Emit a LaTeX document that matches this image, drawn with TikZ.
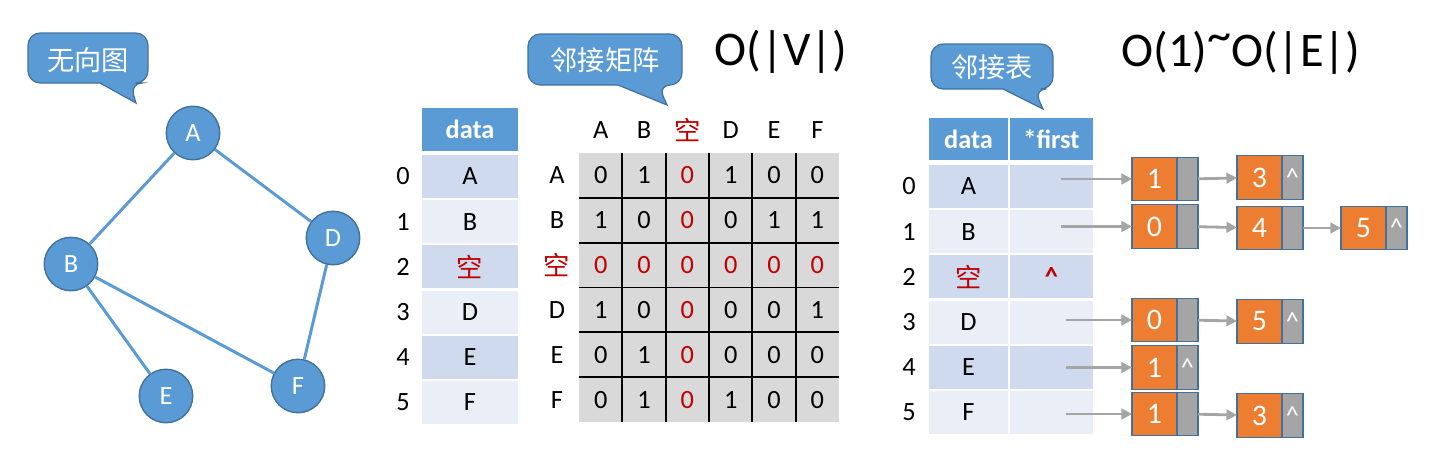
\documentclass[tikz,border=0pt]{standalone}
\usepackage{fontspec}
\setmainfont{Carlito}
\newfontfamily\cjk{Noto Sans CJK SC}
\usetikzlibrary{positioning, arrows.meta}
\definecolor{gblue}{HTML}{5B9BD5}
\definecolor{gline}{HTML}{41719C}
\definecolor{rowdark}{HTML}{CFDAEE}
\definecolor{rowlight}{HTML}{E9EEF7}
\definecolor{cellgrey}{HTML}{D9D9D9}
\definecolor{emptyred}{HTML}{C00000}
\definecolor{listorange}{HTML}{ED7D31}
\definecolor{listgrey}{HTML}{A5A5A5}

\begin{document}
\begin{tikzpicture}[x=0.02cm, y=-0.02cm, font=\fontsize{15}{18}\selectfont,
  vtx/.style={circle, draw=gline, fill=gblue, line width=0.8pt, minimum size=1.07cm, inner sep=0pt, text=white},
  edge/.style={gblue, line width=1.7pt},
  bubble/.style={draw=gline, fill=gblue, line width=0.7pt},
  bubtxt/.style={text=white, font=\cjk\fontsize{15.5}{18}\selectfont},
  bigtxt/.style={font=\fontsize{27.5}{30}\selectfont, anchor=base, inner sep=0pt},
  hdr/.style={fill=gblue, text=white, font=\bfseries\fontsize{15}{18}\selectfont, minimum height=0.85cm, inner sep=0pt},
  cellbox/.style={minimum height=0.86cm, inner sep=0pt},
  valbox/.style={draw=gline, fill=listorange, text=white, line width=0.6pt, minimum width=0.9cm, minimum height=0.87cm, inner sep=0pt, outer sep=0pt, font=\fontsize{17}{18}\selectfont},
  ptrbox/.style={draw=gline, fill=listgrey, text=white, line width=0.6pt, minimum width=0.42cm, minimum height=0.87cm, inner sep=0pt, outer sep=0pt},
  lnk/.style={listgrey, line width=1.6pt, -{Triangle[length=6pt,width=6pt]}}]
\useasboundingbox (0,0) rectangle (1446,463);

% undirected graph
\node[vtx] (A) at (193,133) {A};
\node[vtx] (B) at (71,264) {B};
\node[vtx] (D) at (333,238) {D};
\node[vtx] (E) at (166,396) {E};
\node[vtx] (F) at (298,386) {F};
\draw[edge] (A) -- (B) -- (E);
\draw[edge] (A) -- (D) -- (F) -- (B);

% speech bubbles
\draw[bubble, rounded corners=7] (100,83) -- (28,83) -- (28,33) -- (148,33) -- (148,83) -- (130,83) [sharp corners] -- (136,103) -- cycle;
\node[bubtxt] (cgraph) at (88,60) {无向图};
\draw[bubble, rounded corners=7] (618,85) -- (528,85) -- (528,34) -- (682,34) -- (682,85) -- (658,85) [sharp corners] -- (667,105) -- cycle;
\node[bubtxt] (cmatrix) at (605,60) {邻接矩阵};
\draw[bubble, rounded corners=7] (1003,89) -- (931,89) -- (931,44) -- (1053,44) -- (1053,89) -- (1034,89) [sharp corners] -- (1043,109) -- cycle;
\node[bubtxt] (clist) at (992,67) {邻接表};

% complexity
\node[bigtxt] (omatrix) at (781,65) {O(|V|)};
\node[bigtxt] (olist) at (1241,66) {O(1)\raisebox{0.3em}{\textasciitilde}O(|E|)};

% vertex table of the matrix
\node[hdr, minimum width=1.92cm] (mhead) at (470,129.5) {data};
\foreach \i/\lbl/\shade/\tc in {0/A/rowdark/black, 1/B/rowlight/black, 2/{\cjk 空}/rowdark/emptyred,
    3/D/rowlight/black, 4/E/rowdark/black, 5/F/rowlight/black}
{
  \node[cellbox, fill=\shade, text=\tc, minimum width=1.92cm] (md\i) at (470,{176.5+45.2*\i}) {\lbl};
  \node (mi\i) at (403,{176.5+45.2*\i}) {\i};
}

% adjacency matrix
\fill[cellgrey] (579,153) rectangle (839,422);
\foreach \k in {1,...,5}
{
  \draw[line width=1pt] ({579+43.33*\k},153) -- ({579+43.33*\k},422);
  \draw[line width=1pt] (579,{153+44.83*\k}) -- (839,{153+44.83*\k});
}
\foreach \lbl/\tc [count=\c from 0] in {A/black, B/black, {\cjk 空}/emptyred, D/black, E/black, F/black}
{
  \node[text=\tc] (mc\c) at ({600.7+43.33*\c},130) {\lbl};
  \node[text=\tc] (mr\c) at (557,{175.4+44.83*\c}) {\lbl};
}
\foreach \vals [count=\r from 0] in {{0,1,0,1,0,0}, {1,0,0,0,1,1}, {0,0,0,0,0,0},
    {1,0,0,0,0,1}, {0,1,0,0,0,0}, {0,1,0,1,0,0}}
{
  \foreach \v [count=\c from 0] in \vals
  {
    \def\tc{black}
    \ifnum\c=2 \def\tc{emptyred}\fi
    \ifnum\r=2 \def\tc{emptyred}\fi
    \node[text=\tc] (m\r\c) at ({600.7+43.33*\c},{175.4+44.83*\r}) {\v};
  }
}

% adjacency list table
\node[hdr, minimum width=1.58cm] (lhead) at (968.5,139) {data};
\node[hdr, minimum width=1.66cm] (fhead) at (1051.5,139) {*first};
\foreach \i/\lbl/\shade/\tc/\ptr in {0/A/rowdark/black/{}, 1/B/rowlight/black/{}, 2/{\cjk 空}/rowdark/emptyred/{\textbf{\textasciicircum}},
    3/D/rowlight/black/{}, 4/E/rowdark/black/{}, 5/F/rowlight/black/{}}
{
  \node[cellbox, fill=\shade, text=\tc, minimum width=1.58cm] (ld\i) at (968.5,{186.5+45.2*\i}) {\lbl};
  \node[cellbox, fill=\shade, text=emptyred, minimum width=1.66cm] (lf\i) at (1051.5,{186.5+45.2*\i}) {\ptr};
  \node (li\i) at (909,{186.5+45.2*\i}) {\i};
}

% edge nodes
\foreach \nm/\x/\y/\v/\p in {r0a/1132/179/1/{}, r0b/1237/177.5/3/\textasciicircum,
    r1a/1132/226.5/0/{}, r1b/1237/228/4/{}, r1c/1341/228/5/\textasciicircum,
    r3a/1132/320/0/{}, r3b/1237/321.5/5/\textasciicircum,
    r4a/1132/367.5/1/\textasciicircum,
    r5a/1132/414/1/{}, r5b/1237/415.5/3/\textasciicircum}
{
  \node[valbox, anchor=west] (\nm) at (\x,\y) {\v};
  \node[ptrbox, right=0pt of \nm] (\nm p) {\p};
}

% pointers
\coordinate (s0) at (1061,179);
\coordinate (s1) at (1061,226.5);
\coordinate (s3) at (1066,320);
\coordinate (s4) at (1066,367.5);
\coordinate (s5) at (1066,414);
\draw[lnk] (s0) -- (r0a);
\draw[lnk] (s1) -- (r1a);
\draw[lnk] (s3) -- (r3a);
\draw[lnk] (s4) -- (r4a);
\draw[lnk] (s5) -- (r5a);
\draw[lnk] (r0ap) -- (r0b);
\draw[lnk] (r1ap) -- (r1b);
\draw[lnk] (r1bp) -- (r1c);
\draw[lnk] (r3ap) -- (r3b);
\draw[lnk] (r5ap) -- (r5b);
\end{tikzpicture}
\end{document}
